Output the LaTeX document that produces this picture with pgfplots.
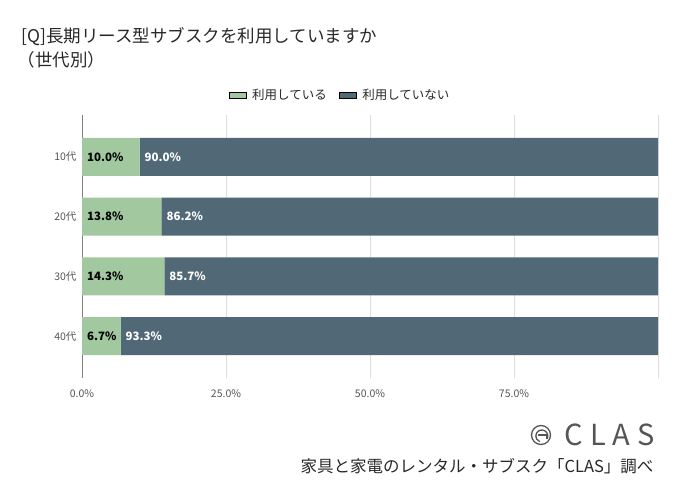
\documentclass[border=0pt]{standalone}
\usepackage{fontspec}
\setmainfont{Noto Sans CJK JP}
\usepackage{pgfplots}
\pgfplotsset{compat=1.18}

\definecolor{usegreen}{RGB}{162,200,160}
\definecolor{noslate}{RGB}{81,105,118}
\definecolor{titlegray}{RGB}{40,40,40}
\definecolor{tickgray}{RGB}{85,85,85}
\definecolor{gridgray}{RGB}{222,222,222}

\tikzset{barlbl/.style={anchor=west, xshift=1.5pt, font=\bfseries\fontsize{11.5}{13}\selectfont}}

\begin{document}
\begin{tikzpicture}
\path (0pt,0pt) rectangle (680pt,491pt);

% title
\node[anchor=west, text=titlegray, font=\fontsize{17.5}{20}\selectfont] at (18pt,454pt) {[Q]長期リース型サブスクを利用していますか};
\node[anchor=west, text=titlegray, font=\fontsize{17.5}{20}\selectfont] at (14pt,431pt) {（世代別）};

\begin{axis}[
  at={(82pt,113pt)}, anchor=south west,
  width=576pt, height=263pt, scale only axis,
  xbar stacked, bar width=38pt,
  xmin=0, xmax=100, ymin=-0.7, ymax=3.7,
  y dir=reverse,
  ytick={0,1,2,3},
  yticklabels={10代,20代,30代,40代},
  xtick={0,25,50,75,100},
  xticklabels={0.0\%,25.0\%,50.0\%,75.0\%,{}},
  /pgf/number format/assume math mode=true,
  axis lines=left,
  axis line style={-},
  x axis line style={draw=none},
  y axis line style={draw=gray},
  major tick length=0pt,
  xmajorgrids, grid style={gridgray, line width=0.8pt},
  tick label style={text=tickgray, font=\fontsize{10.5}{12}\selectfont},
  xticklabel style={yshift=-8pt},
  yticklabel style={xshift=-2pt},
  legend columns=2,
  legend style={draw=none, at={(0.448,1.076)}, anchor=center,
    font=\fontsize{12.5}{14}\selectfont, text=titlegray,
    /tikz/every odd column/.append style={column sep=4pt},
    /tikz/every even column/.append style={column sep=10pt}},
  area legend,
  clip=false,
]
\addplot[fill=usegreen, draw=none] coordinates {(10.0,0) (13.8,1) (14.3,2) (6.7,3)};
\addplot[fill=noslate, draw=none] coordinates {(90.0,0) (86.2,1) (85.7,2) (93.3,3)};
\legend{利用している,利用していない}

\coordinate (g0) at (axis cs:0,0);
\coordinate (g1) at (axis cs:0,1);
\coordinate (g2) at (axis cs:0,2);
\coordinate (g3) at (axis cs:0,3);
\coordinate (s0) at (axis cs:10.0,0);
\coordinate (s1) at (axis cs:13.8,1);
\coordinate (s2) at (axis cs:14.3,2);
\coordinate (s3) at (axis cs:6.7,3);
\end{axis}

\node[barlbl, text=black] at (g0) {10.0\%};
\node[barlbl, text=black] at (g1) {13.8\%};
\node[barlbl, text=black] at (g2) {14.3\%};
\node[barlbl, text=black] at (g3) {6.7\%};
\node[barlbl, text=white] at (s0) {90.0\%};
\node[barlbl, text=white] at (s1) {86.2\%};
\node[barlbl, text=white] at (s2) {85.7\%};
\node[barlbl, text=white] at (s3) {93.3\%};

% CLAS logo
\draw[tickgray, line width=1.3pt] (541pt,56pt) circle (9.5pt);
\draw[tickgray, line width=1.3pt] (547pt,52pt) arc (-30:250:6pt);
\draw[tickgray, line width=1.3pt] (538pt,56pt) -- (547pt,56pt) -- (547pt,52pt);
\node[anchor=west, text=tickgray, font=\fontsize{29}{32}\selectfont] at (561pt,56pt) {C\hspace{7pt}L\hspace{7pt}A\hspace{7pt}S};

\node[anchor=east, text=titlegray, font=\fontsize{16.5}{19}\selectfont] at (657pt,25pt) {家具と家電のレンタル・サブスク「CLAS」調べ};
\end{tikzpicture}
\end{document}
